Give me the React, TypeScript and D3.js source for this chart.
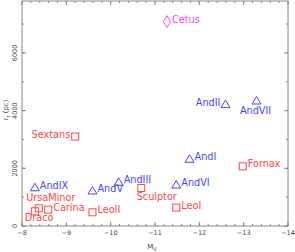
import React from "react";
import * as d3 from "d3";

// galaxy names, absolute magnitude M_V and tidal radius r_t (pc)
const names = [
  "Cetus", "AndII", "AndVII", "Sextans", "AndIX", "UrsaMinor", "Draco", "Carina",
  "AndV", "LeoII", "AndIII", "Sculptor", "AndI", "Fornax", "AndVI", "LeoI",
];
const mv = [
  -11.27, -12.59, -13.29, -9.2, -8.29, -8.38, -8.29, -8.59,
  -9.59, -9.59, -10.18, -10.69, -11.78, -12.98, -11.48, -11.48,
];
const rt = [
  7085, 4208, 4333, 3099, 1324, 614, 510, 568,
  1213, 475, 1515, 1317, 2312, 2069, 1421, 638,
];
// "mw" = Milky Way satellite, "m31" = Andromeda satellite, "iso" = isolated
const groups = [
  "iso", "m31", "m31", "mw", "m31", "mw", "mw", "mw",
  "m31", "mw", "m31", "mw", "m31", "mw", "m31", "mw",
];
// where each label sits next to its marker
const placement = [
  "right", "left", "below", "left", "right", "aboveLeft", "belowLeft", "right",
  "right", "right", "right", "belowLeft", "right", "right", "right", "right",
];

const xTicks = [-8, -9, -10, -11, -12, -13, -14];
const yTicks = [0, 2000, 4000, 6000];

const W = 295;
const H = 252;
const margin = { top: 1, right: 7, bottom: 26, left: 22 };

const colors: Record<string, string> = { mw: "#ff4646", m31: "#4646ff", iso: "#ff46ff" };

const App = () => {
  const x = d3.scaleLinear().domain([-8, -14]).range([margin.left, W - margin.right]);
  const y = d3.scaleLinear().domain([0, 7800]).range([H - margin.bottom, margin.top]);
  const x0 = margin.left, x1 = W - margin.right, y0 = H - margin.bottom, y1 = margin.top;
  const axisColor = "#888";
  const textColor = "#444";

  const xMinor = d3.range(-8, -14.01, -0.2);
  const yMinor = d3.range(0, 7800, 1000);

  const marker = (g: string, cx: number, cy: number, c: string) => {
    if (g === "mw") return <rect x={cx - 3.5} y={cy - 3.5} width={7} height={7} fill="none" stroke={c} />;
    if (g === "m31")
      return <path d={`M${cx},${cy - 4.5}L${cx + 4.5},${cy + 3}L${cx - 4.5},${cy + 3}Z`} fill="none" stroke={c} />;
    return <path d={`M${cx},${cy - 6}L${cx + 3.5},${cy}L${cx},${cy + 6}L${cx - 3.5},${cy}Z`} fill="none" stroke={c} />;
  };

  const label = (p: string, cx: number, cy: number) => {
    switch (p) {
      case "left": return { x: cx - 5, y: cy + 1, anchor: "end" };
      case "below": return { x: cx - 1, y: cy + 12.5, anchor: "middle" };
      case "aboveLeft": return { x: cx - 12.6, y: cy - 7.5, anchor: "start" };
      case "belowLeft": return { x: cx - (cx < 60 ? 10 : 4.6), y: cy + (cx < 60 ? 10 : 12.3), anchor: "start" };
      default: return { x: cx + 5, y: cy + 1, anchor: "start" };
    }
  };

  return (
    <svg width={W} height={H} style={{ position: "absolute", left: 0, top: 0, background: "#fff" }}
      fontFamily="DejaVu Sans">
      <rect x={x0} y={y1} width={x1 - x0} height={y0 - y1} fill="none" stroke={axisColor} strokeWidth={1} />
      {/* x ticks, bottom and top, inward */}
      {xMinor.map((t, i) => (
        <g key={"xm" + i} stroke={axisColor}>
          <line x1={x(t)} x2={x(t)} y1={y0} y2={y0 - 2} />
          <line x1={x(t)} x2={x(t)} y1={y1} y2={y1 + 2} />
        </g>
      ))}
      {xTicks.map((t) => (
        <g key={"x" + t}>
          <line x1={x(t)} x2={x(t)} y1={y0} y2={y0 - 4} stroke={axisColor} />
          <line x1={x(t)} x2={x(t)} y1={y1} y2={y1 + 4} stroke={axisColor} />
          <text x={x(t)} y={235} fontSize={6.5} textAnchor="middle" fill={textColor}>
            {"\u2212" + Math.abs(t)}
          </text>
        </g>
      ))}
      {yMinor.map((t) => (
        <g key={"ym" + t} stroke={axisColor}>
          <line x1={x0} x2={x0 + 2} y1={y(t)} y2={y(t)} />
          <line x1={x1} x2={x1 - 2} y1={y(t)} y2={y(t)} />
        </g>
      ))}
      {yTicks.map((t) => (
        <g key={"y" + t}>
          <line x1={x0} x2={x0 + 4} y1={y(t)} y2={y(t)} stroke={axisColor} />
          <line x1={x1} x2={x1 - 4} y1={y(t)} y2={y(t)} stroke={axisColor} />
          <text transform={`translate(16.5,${y(t)}) rotate(-90)`} fontSize={6.5} textAnchor="middle" fill={textColor}>
            {t}
          </text>
        </g>
      ))}
      <text x={152} y={249} fontSize={7} textAnchor="middle" fill={textColor}>
        M<tspan fontSize={5} dy={1.5}>V</tspan>
      </text>
      <text transform="translate(8,110) rotate(-90)" fontSize={7} textAnchor="middle" fill={textColor}>
        r<tspan fontSize={5} dy={1.5}>t</tspan>
        <tspan dy={-1.5}> (pc)</tspan>
      </text>
      {names.map((n, i) => {
        const cx = x(mv[i]);
        const cy = y(rt[i]);
        const c = colors[groups[i]];
        const l = label(placement[i], cx, cy);
        return (
          <g key={n}>
            {marker(groups[i], cx, cy, c)}
            <text x={l.x} y={l.y} fontSize={9.7} fill={c} textAnchor={l.anchor}>{n}</text>
          </g>
        );
      })}
    </svg>
  );
};

export default App;
